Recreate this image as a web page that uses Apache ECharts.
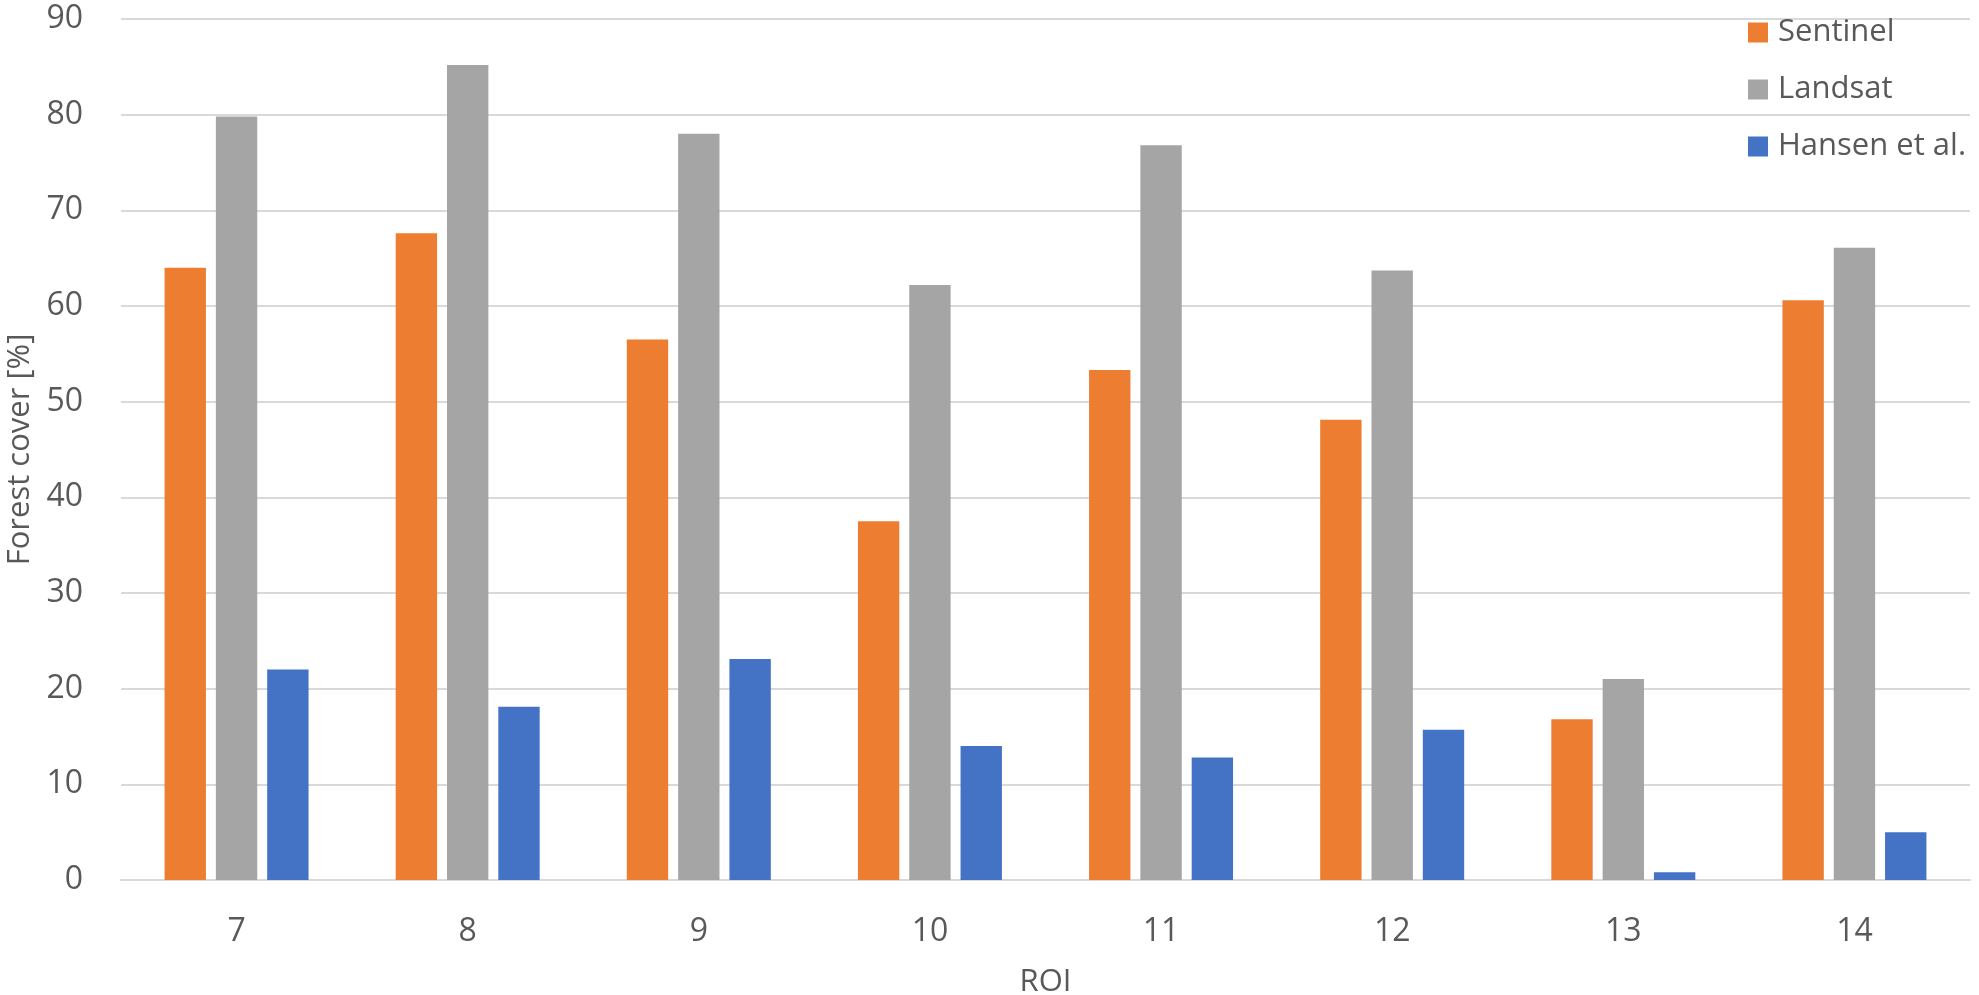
<!DOCTYPE html>
<html>
<head>
    <meta charset="utf-8">
    <script src="https://cdn.jsdelivr.net/npm/echarts@6/dist/echarts.min.js"></script>
    <style>
        html, body { margin: 0; padding: 0; background: #fff; }
    </style>
</head>

<body>
<div id="main" style="width: 1979px;height:995px;"></div>

<script type="text/javascript">
    // ROI numbers along the x axis
    var rois = ['7', '8', '9', '10', '11', '12', '13', '14'];

    // forest cover in percent
    var sentinel = [64.0, 67.6, 56.5, 37.5, 53.3, 48.1, 16.8, 60.6];
    var landsat = [79.8, 85.2, 78.0, 62.2, 76.8, 63.7, 21.0, 66.1];
    var hansen = [22.0, 18.1, 23.1, 14.0, 12.8, 15.7, 0.8, 5.0];

    var seriesNames = ['Sentinel', 'Landsat', 'Hansen et al.'];
    var colors = ['#ED7D31', '#A5A5A5', '#4472C4'];

    var font = 'Open Sans';
    var textColor = '#595959';

    var myChart = echarts.init(document.getElementById('main'));

    var option = {
        animation: false,
        color: colors,
        textStyle: { fontFamily: font },
        grid: {
            left: 121,
            right: 9,
            top: 19,
            bottom: 115,
            outerBoundsMode: 'none'
        },
        legend: {
            orient: 'vertical',
            left: 1743,
            top: 12,
            itemWidth: 20,
            itemHeight: 20,
            itemGap: 26,
            icon: 'rect',
            textStyle: {
                fontFamily: font,
                fontSize: 31,
                lineHeight: 31,
                color: textColor,
                padding: [0, 0, 0, 5]
            },
            data: seriesNames
        },
        xAxis: {
            type: 'category',
            data: rois,
            name: 'ROI',
            nameLocation: 'middle',
            nameGap: 87,
            nameTextStyle: { fontSize: 31, color: textColor, fontFamily: font },
            axisLine: { lineStyle: { color: '#D9D9D9', width: 2 } },
            axisTick: { show: false },
            axisLabel: { fontSize: 32, color: textColor, margin: 36, fontFamily: font }
        },
        yAxis: {
            type: 'value',
            min: 0,
            max: 90,
            interval: 10,
            name: 'Forest cover [%]',
            nameLocation: 'middle',
            nameGap: 82,
            nameTextStyle: { fontSize: 31, color: textColor, fontFamily: font },
            axisLine: { show: false },
            axisTick: { show: false },
            axisLabel: { fontSize: 32, color: textColor, margin: 38, fontFamily: font },
            splitLine: { lineStyle: { color: '#D9D9D9', width: 2 } }
        },
        series: [
            {
                name: seriesNames[0],
                type: 'bar',
                data: sentinel,
                barGap: '24%',
                barCategoryGap: '37.7%'
            },
            {
                name: seriesNames[1],
                type: 'bar',
                data: landsat
            },
            {
                name: seriesNames[2],
                type: 'bar',
                data: hansen
            }
        ]
    };

    myChart.setOption(option);
</script>

</body>

</html>
